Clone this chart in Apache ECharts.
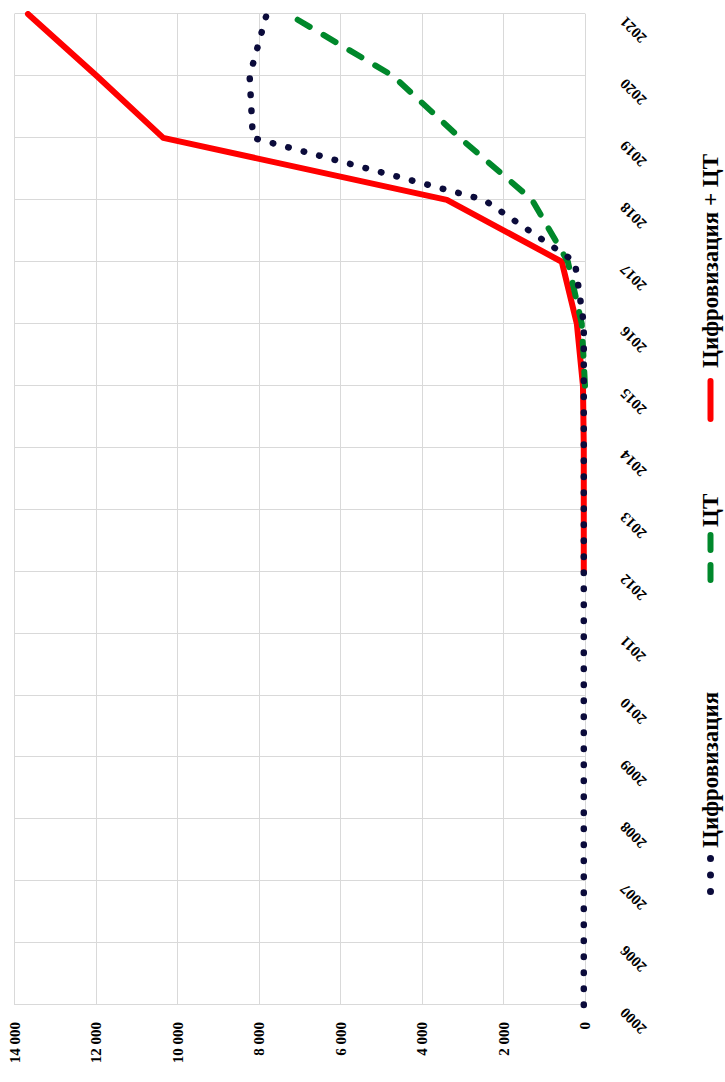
<!DOCTYPE html>
<html>
<head>
<meta charset="utf-8">
<script src="https://cdn.jsdelivr.net/npm/echarts@6/dist/echarts.min.js"></script>
<style>
html, body { margin: 0; padding: 0; width: 725px; height: 1082px; overflow: hidden; background: #fff; }
#chart { position: absolute; left: 0; top: 0; width: 1082px; height: 725px;
  transform-origin: 0 0; transform: translateY(1082px) rotate(-90deg); }
</style>
</head>
<body>
<div id="chart"></div>
<script>
// Data
const years = ['2000','2006','2007','2008','2009','2010','2011','2012','2013','2014','2015','2016','2017','2018','2019','2020','2021'];
const digitalization = [30,30,30,30,30,30,30,30,30,30,30,30,250,2480,8150,8230,7810];
const dt = [null,null,null,null,null,null,null,null,null,null,0,80,420,1300,3070,4710,7290];
const digitalizationPlusDt = [null,null,null,null,null,null,null,30,30,30,50,200,570,3390,10350,11980,13670];
const valueTicks = { min: 0, max: 14000, interval: 2000 };
const seriesNames = ['Цифровизация', 'ЦТ', 'Цифровизация + ЦТ'];

const FONT = "'Liberation Serif', 'Times New Roman', serif";
const GRID = '#d9d9d9';
const C_DIG = '#0b0b3b', C_DT = '#00882b', C_SUM = '#ff0000';

const chart = echarts.init(document.getElementById('chart'), null, { renderer: 'svg', width: 1082, height: 725 });

function fmt(v) {
  return String(v).replace(/\B(?=(\d{3})+(?!\d))/g, ' ');
}
function pill(x0, x1) {
  return 'M' + (x0 + 3) + ',0 L' + (x1 - 3) + ',0 A3,3 0 0 1 ' + (x1 - 3) + ',6 L' + (x0 + 3) + ',6 A3,3 0 0 1 ' + (x0 + 3) + ',0 Z ';
}
function dot(cx) {
  return 'M' + (cx - 3.5) + ',3.5 A3.5,3.5 0 1 1 ' + (cx + 3.5) + ',3.5 A3.5,3.5 0 1 1 ' + (cx - 3.5) + ',3.5 Z ';
}
const iconDots = 'path://' + dot(3.5) + dot(20) + dot(36.5);
const iconDash = 'path://' + pill(0, 21) + pill(30, 51);
const iconLine = 'path://' + pill(0, 44);

function legend(name, left, icon, w, h, pad, color) {
  return {
    data: [{ name: name, icon: icon, itemStyle: { color: color, borderWidth: 0 } }],
    left: left, top: 694, itemWidth: w, itemHeight: h, itemGap: 0,
    symbolKeepAspect: false, selectedMode: false,
    textStyle: { fontFamily: FONT, fontWeight: 'bold', fontSize: 23, color: '#000', padding: [0, 0, 0, pad] }
  };
}

chart.setOption({
  animation: false,
  backgroundColor: '#fff',
  grid: { left: 77, right: 14, top: 14.5, bottom: 140, containLabel: false },
  legend: [
    legend(seriesNames[0], 182, iconDots, 40, 7, 2, C_DIG),
    legend(seriesNames[1], 494, iconDash, 51, 6, 0, C_DT),
    legend(seriesNames[2], 655, iconLine, 44, 6, 5, C_SUM)
  ],
  xAxis: {
    type: 'category',
    data: years,
    boundaryGap: false,
    axisLine: { show: true, lineStyle: { color: GRID, width: 1 } },
    axisTick: { show: false },
    axisLabel: {
      interval: 0, rotate: 45, margin: 43, verticalAlign: 'bottom',
      fontFamily: FONT, fontWeight: 'bold', fontSize: 15, color: '#000'
    },
    splitLine: { show: true, interval: 0, lineStyle: { color: GRID, width: 1 } }
  },
  yAxis: {
    type: 'value',
    min: valueTicks.min, max: valueTicks.max, interval: valueTicks.interval,
    axisLine: { show: true, lineStyle: { color: GRID, width: 1 } },
    axisTick: { show: false },
    axisLabel: {
      margin: 17, formatter: fmt,
      fontFamily: FONT, fontWeight: 'bold', fontSize: 15, color: '#000'
    },
    splitLine: { show: true, lineStyle: { color: GRID, width: 1 } }
  },
  series: [
    {
      name: seriesNames[2], type: 'line', data: digitalizationPlusDt, z: 2,
      symbol: 'none', showSymbol: false, connectNulls: false,
      lineStyle: { color: C_SUM, width: 6, cap: 'round', join: 'round' },
      itemStyle: { color: C_SUM }
    },
    {
      name: seriesNames[1], type: 'line', data: dt, z: 3,
      symbol: 'none', showSymbol: false,
      lineStyle: { color: C_DT, width: 6, type: [14, 16], cap: 'round', join: 'round' },
      itemStyle: { color: C_DT }
    },
    {
      name: seriesNames[0], type: 'line', data: digitalization, z: 4,
      symbol: 'none', showSymbol: false,
      lineStyle: { color: C_DIG, width: 6.5, type: [0.5, 15.5], cap: 'round', join: 'round' },
      itemStyle: { color: C_DIG }
    }
  ]
});
</script>
</body>
</html>
